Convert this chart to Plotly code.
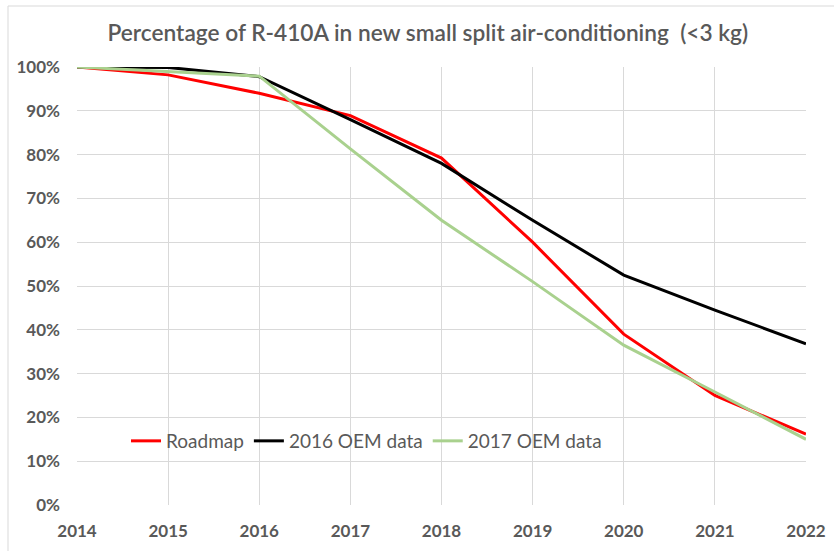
import plotly.graph_objects as go

years = [2014, 2015, 2016, 2017, 2018, 2019, 2020, 2021, 2022]
roadmap = [1.00, 0.982, 0.94, 0.889, 0.792, 0.60, 0.39, 0.25, 0.162]
oem_2016 = [1.00, 0.999, 0.978, 0.880, 0.780, 0.650, 0.525, 0.445, 0.368]
oem_2017 = [1.00, 0.990, 0.979, 0.813, 0.650, 0.510, 0.365, 0.258, 0.150]
y_ticks = [0, 0.1, 0.2, 0.3, 0.4, 0.5, 0.6, 0.7, 0.8, 0.9, 1.0]

FONT = "Lato"
GREY = "#595959"

fig = go.Figure()
fig.add_trace(go.Scatter(x=years, y=roadmap, mode="lines", name="Roadmap",
                         line=dict(color="#ff0000", width=3)))
fig.add_trace(go.Scatter(x=years, y=oem_2016, mode="lines", name="2016 OEM data",
                         line=dict(color="#000000", width=3)))
fig.add_trace(go.Scatter(x=years, y=oem_2017, mode="lines", name="2017 OEM data",
                         line=dict(color="#a9d18e", width=3)))

fig.update_layout(
    width=834, height=551,
    margin=dict(l=77, r=28, t=67, b=46),
    paper_bgcolor="white", plot_bgcolor="white",
    title=dict(text="Percentage of R-410A in new small split air-conditioning  (<3 kg)",
               x=0.513, xanchor="center", y=1 - 33 / 551, yanchor="middle",
               font=dict(family=FONT, size=22.7, color=GREY, weight=600)),
    font=dict(family=FONT, color=GREY),
    legend=dict(orientation="h", x=(126 - 77) / 729, xanchor="left",
                y=(505 - 441) / 438, yanchor="middle",
                bgcolor="rgba(255,255,255,0)",
                font=dict(family=FONT, size=19, color=GREY),
                itemwidth=30, tracegroupgap=0),
    xaxis=dict(range=[2014, 2022], tickmode="array", tickvals=years,
               ticktext=[f"<b>{y}</b>" for y in years],
               showgrid=True, gridcolor="#d9d9d9", gridwidth=1,
               zeroline=False, showline=False, ticks="", automargin=False,
               tickfont=dict(family=FONT, size=17, color=GREY), ticklabelstandoff=14),
    yaxis=dict(range=[0, 1.0], tickmode="array", tickvals=y_ticks,
               ticktext=[f"<b>{int(round(v*100))}%</b>" for v in y_ticks],
               showgrid=True, gridcolor="#d9d9d9", gridwidth=1,
               zeroline=False, showline=False, ticks="", automargin=False,
               tickfont=dict(family=FONT, size=17, color=GREY), ticklabelstandoff=16),
    hovermode=False,
    showlegend=True,
)

fig.add_shape(type="rect", xref="paper", yref="paper",
              x0=(8 - 77) / 729, x1=(840 - 77) / 729,
              y0=(505 - 560) / 438, y1=(505 - 6) / 438,
              line=dict(color="#d9d9d9", width=1), layer="below")

fig.write_html("out.html", config={"displayModeBar": False},
               post_script="document.body.style.margin='0';")
